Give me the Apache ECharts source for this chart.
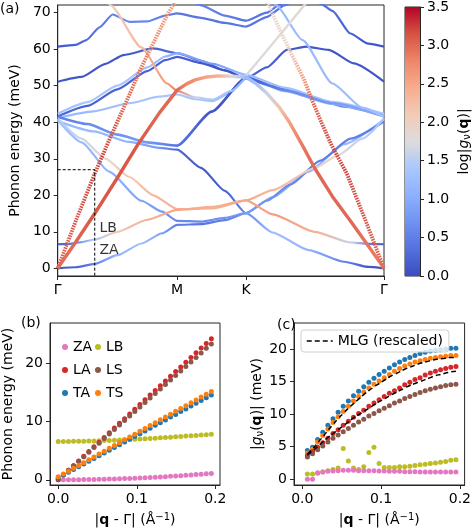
<!DOCTYPE html>
<html><head><meta charset="utf-8">
<script src="https://cdn.jsdelivr.net/npm/echarts@6/dist/echarts.min.js"></script>
<style>html,body{margin:0;padding:0;background:#fff}#c{width:474px;height:528px}</style>
</head><body><div id="c"></div>
<script>
// ---------- Panel (a): high-symmetry path (units of |ΓM|) ----------
const pathTicks = [0, 1, 1.5774, 2.7321];
const pathLabels = ['Γ', 'M', 'K', 'Γ'];
const energyTicks = [0, 10, 20, 30, 40, 50, 60, 70];
// bands: [s, energy (meV), log|g|]
const bandH60 = [[0,60.7,0.1],[0.15,61.2,0.2],[0.24,62.5,0.3],[0.35,66,0.4],[0.46,69.5,0.5],[0.6,67.5,0.6],[0.75,67.6,0.6],[0.9,69.2,0.5],[1,69.8,0.4],[1.2,68.6,0.4],[1.4,67.2,0.4],[1.577,66.2,0.4],[1.75,68.8,0.4],[1.9,72,0.4],[2.0,74,0.4]];
const bandH60R = [[2.1,74,0.4],[2.2,72.5,0.4],[2.3,70.5,0.3],[2.45,64.3,0.2],[2.6,61.5,0.1],[2.732,60.7,0.1]];
const bandHK2 = [[1.1,74,0.5],[1.2,72,0.5],[1.4,69.2,0.5],[1.577,67.8,0.4],[1.75,70,0.4],[1.85,72,0.4],[1.95,74,0.4]];
const bandH51 = [[0,51.1,0.1],[0.2,52.4,0.1],[0.4,56,0.1],[0.55,58.4,0.1],[0.8,60.2,0.2],[1,58.9,0.3],[1.2,56.8,0.2],[1.4,54.2,0.2],[1.577,52,0.2],[1.75,55,0.2],[1.92,59.8,0.1],[2.08,60.7,0.1],[2.27,59.8,0.1],[2.48,56.1,0.1],[2.732,51.1,0.1]];
const bandR1 = [[0,41.6,0.3],[0.25,44.5,0.2],[0.5,49,0.2],[0.75,54,0.2],[0.9,57,0.2],[1,57.9,0.2],[1.2,56.2,0.1],[1.4,54.2,0.1],[1.577,52,0.1],[1.8,49.8,0.3],[2.1,47,0.4],[2.4,44.3,0.5],[2.732,41.6,0.6]];
const bandR2 = [[0,42.3,1.3],[0.25,45.5,1.4],[0.5,50,1.4],[0.75,55,1.3],[0.9,58,1.2],[1,58.9,1.0],[1.3,56,0.8],[1.577,53,1.2],[1.9,49.5,1.3],[2.3,45.6,1.4],[2.732,42.3,1.4]];
const bandR3 = [[0,41.2,1.2],[0.3,43,1.2],[0.6,45.2,1.3],[0.85,47,1.4],[1,47.6,1.4],[1.15,46.3,1.4],[1.3,45.8,1.3],[1.45,48.2,1.2],[1.577,52.5,1.0],[1.9,48.5,1.3],[2.3,45,1.3],[2.732,41.8,1.3]];
const bandD1 = [[0,41.5,0.5],[0.25,39.5,0.6],[0.5,36.6,0.7],[0.75,34.5,0.8],[1,33.6,0.4],[1.29,42.9,0.1],[1.577,52.2,0.1],[1.9,48.8,0.6],[2.3,45.2,0.8],[2.732,41.8,1.0]];
const bandLbR = [[1.78,74,1.2],[1.83,72,1.2],[2.05,62.5,1.2],[2.3,50.6,1.2],[2.55,44,1.3],[2.732,41.5,1.3]];
const bandMD = [[0,40.3,1.2],[0.3,37.5,1.2],[0.6,34.6,1.1],[0.85,33,0.8],[1,32.5,0.3],[1.2,27.5,0.1],[1.4,21.2,0.2],[1.577,15.1,0.6],[1.8,9.8,1.3],[2.1,5,1.1],[2.4,1.8,0.5],[2.6,0.4,0.1],[2.732,0,0.05]];
const bandF = [[0,40.6,1.3],[0.2,34.5,1.2],[0.43,26.5,1.1],[0.7,18.5,0.9],[0.875,15.5,0.8],[1,13,0.6],[1.2,12.8,0.6],[1.4,13.8,0.7],[1.577,15.1,0.9],[1.8,19.5,1.0],[2.1,26.5,1.1],[2.4,34,1.2],[2.732,40.8,1.3]];
const bandZA = [[0,0,0.1],[0.15,0.3,0.2],[0.31,1.2,0.5],[0.5,3.6,1.1],[0.7,6.8,1.3],[0.875,9.6,0.9],[1,11.9,0.5],[1.2,12.1,0.4],[1.4,13.2,0.5],[1.577,15.1,0.8],[1.75,18.5,0.7],[1.95,23,0.6],[2.2,29.5,0.5],[2.45,35.5,0.5],[2.732,40.2,0.5]];
const bandO2 = [[0,41,1.4],[0.2,35.5,1.6],[0.4,30,1.9],[0.6,25,2.1],[0.8,20,2.3],[1,16.2,2.4],[1.3,16.4,2.4],[1.577,18.6,2.5],[1.8,21.4,2.3],[2.15,27.4,2.0],[2.35,31,1.8],[2.55,35.5,1.5],[2.732,41,1.3]];
const bandLB = [[0,6.6,0.2],[0.1,6.7,0.3],[0.2,7.2,0.8],[0.31,7.9,1.4],[0.5,10,2.1],[0.75,13.3,2.4],[1,16,2.5],[1.3,16.8,2.4],[1.577,18.6,2.5],[1.8,14.8,2.6],[2.15,10,2.4],[2.45,7.1,1.6],[2.6,6.7,0.4],[2.732,6.6,0.2]];
const bandGrey = [[1.577,52.8,1.7],[1.848,63.4,1.8],[2.064,72,1.8],[2.12,74.2,1.8]];
const bandBeige = [[0.40,74,1.9],[0.443,72,2.0],[0.7,60.5,2.3],[0.916,50.6,2.6],[1,48.6,2.8],[1.15,46.8,1.6],[1.3,46.2,1.4],[1.45,48.5,1.3],[1.577,52.3,1.0]];
const bandTA = [[0,0,2.9],[0.155,7.4,3.0],[0.31,15,3.1],[0.5,24.8,3.1],[0.673,34,3.1],[0.85,42.5,3.0],[1,48.8,3.0],[1.08,50.5,2.8],[1.15,51.6,2.7],[1.25,52.4,2.5],[1.35,52.7,2.4],[1.46,52.6,1.8],[1.577,52.3,1.2],[1.66,50.6,1.3],[1.75,48,1.6],[1.85,44.3,2.2],[1.94,40,2.6],[2.05,33.6,2.9],[2.152,27.4,3.0],[2.3,19.7,3.0],[2.45,13,3.0],[2.6,6.2,2.9],[2.732,0,2.8]];
const bandLAL = [[0,0,3.0],[0.155,13.3,3.1],[0.311,26,3.2],[0.416,34,3.2],[0.55,43.8,3.0],[0.7,55,2.9],[0.81,62.3,2.7],[0.916,69.3,2.6],[1.0,74,2.5]];
const bandLAR = [[1.72,74,1.8],[1.767,72,1.8],[1.85,66,1.9],[1.94,59.8,2.0],[2.064,51.5,2.6],[2.13,46,3.0],[2.21,39.8,3.1],[2.293,33.7,3.2],[2.42,26,3.2],[2.58,12.9,3.1],[2.732,0,3.0]];
const boxLine = [[0,27],[0.31,27],[0.31,-2.1]];
const modeLabels = [['LB',0.345,11.0],['ZA',0.345,4.8]];

// ---------- Panel (b) ----------
const qB = [0,0.0065,0.013,0.0195,0.026,0.0325,0.039,0.0455,0.052,0.0585,0.065,0.0715,0.078,0.0845,0.091,0.0975,0.104,0.1105,0.117,0.1235,0.13,0.1365,0.143,0.1495,0.156,0.1625,0.169,0.1755,0.182,0.1885,0.195];
const bZA = [0,0,0,0.01,0.02,0.03,0.04,0.06,0.08,0.10,0.12,0.15,0.18,0.21,0.24,0.28,0.31,0.35,0.40,0.44,0.49,0.54,0.59,0.65,0.71,0.77,0.83,0.89,0.96,1.03,1.10];
const bLB = [6.60,6.60,6.61,6.62,6.63,6.65,6.67,6.69,6.72,6.75,6.78,6.81,6.85,6.89,6.93,6.97,7.02,7.07,7.12,7.17,7.23,7.28,7.34,7.40,7.46,7.52,7.58,7.64,7.70,7.76,7.82];
const bLA = [0,0.81,1.62,2.43,3.24,4.05,4.86,5.67,6.48,7.29,8.10,8.91,9.72,10.53,11.34,12.15,12.96,13.77,14.58,15.39,16.20,17.01,17.82,18.63,19.44,20.25,21.06,21.87,22.68,23.49,24.30];
const bLS = [0.1,0.88,1.65,2.43,3.21,3.98,4.76,5.54,6.31,7.09,7.87,8.64,9.42,10.2,10.97,11.75,12.53,13.30,14.08,14.86,15.64,16.41,17.19,17.97,18.74,19.52,20.30,21.07,21.85,22.63,23.40];
const bTA = [0.35,0.82,1.30,1.77,2.25,2.72,3.20,3.67,4.15,4.62,5.10,5.57,6.04,6.52,6.99,7.47,7.94,8.42,8.89,9.37,9.84,10.31,10.79,11.26,11.74,12.21,12.69,13.16,13.64,14.11,14.59];
const bTS = [0.50,0.99,1.48,1.97,2.46,2.95,3.44,3.94,4.43,4.92,5.41,5.90,6.39,6.88,7.37,7.86,8.35,8.84,9.33,9.82,10.32,10.81,11.30,11.79,12.28,12.77,13.26,13.75,14.24,14.73,15.22];

// ---------- Panel (c) ----------
const qC = [0.0065,0.013,0.0195,0.026,0.0325,0.039,0.0455,0.052,0.0585,0.065,0.0715,0.078,0.0845,0.091,0.0975,0.104,0.1105,0.117,0.1235,0.13,0.1365,0.143,0.1495,0.156,0.1625,0.169,0.1755,0.182,0.1885,0.195];
const cTA = [4.4,4.9,6.1,7.2,8.3,9.3,10.3,11.2,12.0,12.8,13.5,14.2,14.9,15.5,16.1,16.6,17.1,17.6,18.0,18.4,18.7,19.0,19.3,19.5,19.7,19.8,19.9,20.0,20.1,20.1];
const cTS = [4.0,4.6,5.7,6.7,7.7,8.7,9.6,10.4,11.2,12.0,12.7,13.4,14.0,14.6,15.1,15.6,16.1,16.6,17.0,17.4,17.7,18.0,18.2,18.4,18.6,18.7,18.8,18.9,19.0,19.0];
const cLA = [3.6,4.2,4.9,5.6,6.3,7.0,7.6,8.3,8.9,9.5,10.1,10.6,11.2,11.7,12.2,12.7,13.2,13.6,14.0,14.5,14.9,15.3,15.6,16.0,16.3,16.6,16.8,17.0,17.2,17.3];
const cLS = [3.4,3.9,4.5,5.1,5.7,6.3,6.8,7.3,7.8,8.3,8.8,9.2,9.7,10.1,10.5,10.9,11.3,11.7,12.0,12.4,12.7,13.0,13.3,13.6,13.8,14.0,14.2,14.4,14.5,14.6];
const cLB = [0.8,0.8,0.9,1.1,1.3,1.5,1.7,4.7,2.8,1.7,1.5,1.9,4.1,4.9,2.4,1.8,1.8,1.8,1.9,1.9,2.0,2.1,2.2,2.3,2.4,2.5,2.6,2.7,2.9,3.0];
const cZA = [0,0,1.0,1.1,1.2,1.25,1.3,1.35,1.35,1.35,1.3,1.3,1.3,1.3,1.25,1.25,1.2,1.2,1.2,1.15,1.15,1.15,1.1,1.1,1.1,1.1,1.1,1.1,1.1,1.1];
const mlgUpper = [3.9,4.6,5.6,6.5,7.5,8.4,9.3,10.1,10.9,11.6,12.3,13.0,13.6,14.2,14.7,15.2,15.7,16.1,16.5,16.9,17.2,17.5,17.8,18.0,18.2,18.4,18.5,18.6,18.7,18.7];
const mlgLower = [3.7,4.3,5.0,5.7,6.4,7.0,7.6,8.2,8.8,9.4,9.9,10.4,10.9,11.4,11.9,12.3,12.8,13.2,13.6,14.0,14.4,14.7,15.0,15.3,15.6,15.9,16.1,16.3,16.5,16.6];
const qTicks = [0, 0.1, 0.2];

// ---------- styling helpers ----------
const CW = ['#3b4cc0','#5470de','#6f92f3','#8db0fe','#aac7fd','#dddcdc','#f2cbb7','#f7ac8e','#ee8669','#d65244','#b40426'];
function hx(h){return [parseInt(h.slice(1,3),16),parseInt(h.slice(3,5),16),parseInt(h.slice(5,7),16)];}
function cw(v){v=Math.max(0,Math.min(1,v));const p=v*10,i=Math.min(9,Math.floor(p)),t=p-i;const a=hx(CW[i]),b=hx(CW[i+1]);
  return 'rgb('+a.map((x,k)=>Math.round(x+(b[k]-x)*t)).join(',')+')';}
function grad(band){const s0=band[0][0],s1=band[band.length-1][0];
  return new echarts.graphic.LinearGradient(0,0,1,0,band.map(p=>({offset:(p[0]-s0)/(s1-s0),color:cw(p[2]/3.5)})));}
const AX = '#262626';
const FS = 14;
const FONT = 'DejaVu Sans';

// [band, width, dash, smooth]
const bandList = [
  [bandH60,2.2,'solid',0.2],[bandH60R,2.2,'solid',0.2],[bandHK2,2.2,'solid',0.2],[bandH51,2.2,'solid',0.2],
  [bandR1,2.2,'solid',0.2],[bandR2,2.2,'solid',0.2],[bandR3,2.2,'solid',0.2],[bandD1,2.6,'solid',0.2],[bandLbR,2.2,'solid',0.2],
  [bandMD,2.2,'solid',0.2],[bandF,2.2,'solid',0.2],[bandZA,2.2,'solid',0.2],[bandO2,2.2,'solid',0.2],[bandLB,2.2,'solid',0.2],
  [bandGrey,2.4,'solid',0],[bandBeige,2.2,'solid',0.2],[bandTA,3.4,'solid',0],[bandLAL,3.8,[1.6,1],0],[bandLAR,3.8,[1.6,1],0]
];
const series = [];
bandList.forEach(([b,w,t,sm])=>{
  series.push({type:'line',xAxisIndex:0,yAxisIndex:0,data:b.map(p=>[p[0],p[1]]),smooth:sm,smoothMonotone:'x',
    symbol:'none',silent:true,lineStyle:{width:w,type:t,color:grad(b)},z:2});
});
series.push({type:'line',xAxisIndex:0,yAxisIndex:0,data:boxLine,symbol:'none',silent:true,
  lineStyle:{color:'#000',width:1,type:[3,2]},z:3});
series.push({type:'scatter',xAxisIndex:0,yAxisIndex:0,data:modeLabels.map(m=>({name:m[0],value:[m[1],m[2]]})),
  symbolSize:1,itemStyle:{color:'rgba(0,0,0,0)'},silent:true,
  label:{show:true,position:'right',distance:0,formatter:p=>p.name,fontSize:FS,color:'#000',fontFamily:FONT},z:4});
// colorbar
series.push({type:'bar',xAxisIndex:1,yAxisIndex:1,data:[3.5],barWidth:'100%',silent:true,
  itemStyle:{color:new echarts.graphic.LinearGradient(0,1,0,0,CW.map((c,i)=>({offset:i/10,color:c})))}});
// panel b
const colors = {ZA:'#e377c2',LB:'#bcbd22',LA:'#d62728',LS:'#8c564b',TA:'#1f77b4',TS:'#ff7f0e'};
const bSets = [['ZA',bZA],['LB',bLB],['LA',bLA],['LS',bLS],['TA',bTA],['TS',bTS]];
bSets.forEach(([n,arr])=>series.push({type:'scatter',name:n,xAxisIndex:2,yAxisIndex:2,data:qB.map((q,i)=>[q,arr[i]]),
  symbolSize:5,itemStyle:{color:colors[n],opacity:1},silent:true}));
// panel c
const cSets = [['TA',cTA],['TS',cTS],['LA',cLA],['LS',cLS],['LB',cLB],['ZA',cZA]];
cSets.forEach(([n,arr])=>series.push({type:'scatter',name:'c'+n,xAxisIndex:3,yAxisIndex:3,data:qC.map((q,i)=>[q,arr[i]]),
  symbolSize:5,itemStyle:{color:colors[n],opacity:1},silent:true}));
[mlgUpper,mlgLower].forEach(arr=>series.push({type:'line',name:'MLG (rescaled)',xAxisIndex:3,yAxisIndex:3,
  data:qC.map((q,i)=>[q,arr[i]]),symbol:'none',showSymbol:false,smooth:true,silent:true,
  lineStyle:{color:'#000',width:1.5,type:[5,3]},itemStyle:{color:'#000'},z:5}));

function valAxis(extra){return Object.assign({type:'value',splitLine:{show:false},
  axisLine:{show:true,onZero:false,lineStyle:{color:AX,width:1}},
  axisTick:{show:true,inside:false,length:4,lineStyle:{color:AX}},
  axisLabel:{color:'#000',fontSize:FS,fontFamily:FONT,margin:7},
  nameTextStyle:{color:'#000',fontSize:FS,fontFamily:FONT}},extra);}

const richName = {i:{fontStyle:'italic',fontSize:FS,fontFamily:FONT},s:{fontSize:10,fontFamily:FONT,padding:[6,0,0,0]},
  b:{fontWeight:'bold',fontSize:FS,fontFamily:FONT},sup:{fontSize:10,fontFamily:FONT,padding:[0,0,6,0]}};

const option = {
  animation:false,
  backgroundColor:'#fff',
  textStyle:{fontFamily:FONT},
  grid:[
    {left:47,top:5,width:337,height:271,show:true,borderColor:AX,borderWidth:1},
    {left:405,top:5,width:15,height:271,show:true,borderColor:AX,borderWidth:1},
    {left:47,top:323,width:173,height:164,show:true,borderColor:AX,borderWidth:1},
    {left:294,top:323,width:173,height:165,show:true,borderColor:AX,borderWidth:1}
  ],
  xAxis:[
    valAxis({gridIndex:0,min:0,max:2.7321,
      axisTick:{show:true,length:4,lineStyle:{color:AX},customValues:pathTicks},
      axisLabel:{color:'#000',fontSize:FS,fontFamily:FONT,margin:7,customValues:pathTicks,
        formatter:v=>{let k=0;pathTicks.forEach((t,i)=>{if(Math.abs(t-v)<1e-3)k=i;});return pathLabels[k];}}}),
    {type:'category',gridIndex:1,data:['c'],show:false},
    valAxis({gridIndex:2,min:-0.0105,max:0.206,name:'|{b|q} - Γ| (Å{sup|−1})',nameLocation:'middle',nameGap:27,
      nameTextStyle:{color:'#000',fontSize:FS,fontFamily:FONT,rich:richName},
      axisTick:{show:true,length:4,lineStyle:{color:AX},customValues:qTicks},
      axisLabel:{color:'#000',fontSize:FS,fontFamily:FONT,margin:7,customValues:qTicks,formatter:v=>v.toFixed(1)}}),
    valAxis({gridIndex:3,min:-0.0105,max:0.206,name:'|{b|q} - Γ| (Å{sup|−1})',nameLocation:'middle',nameGap:27,
      nameTextStyle:{color:'#000',fontSize:FS,fontFamily:FONT,rich:richName},
      axisTick:{show:true,length:4,lineStyle:{color:AX},customValues:qTicks},
      axisLabel:{color:'#000',fontSize:FS,fontFamily:FONT,margin:7,customValues:qTicks,formatter:v=>v.toFixed(1)}})
  ],
  yAxis:[
    valAxis({gridIndex:0,min:-2.1,max:72.1,name:'Phonon energy (meV)',nameLocation:'middle',nameGap:34,
      axisTick:{show:true,length:4,lineStyle:{color:AX},customValues:energyTicks},
      axisLabel:{color:'#000',fontSize:FS,fontFamily:FONT,margin:7,customValues:energyTicks}}),
    valAxis({gridIndex:1,min:0,max:3.5,interval:0.5,position:'right',name:'log|{i|g}{s|ν}({b|q})|',nameLocation:'middle',nameGap:36,
      nameTextStyle:{color:'#000',fontSize:FS,fontFamily:FONT,rich:richName},
      axisLabel:{color:'#000',fontSize:FS,fontFamily:FONT,margin:7,formatter:v=>v.toFixed(1)}}),
    valAxis({gridIndex:2,min:-0.9,max:27.0,name:'Phonon energy (meV)',nameLocation:'middle',nameGap:35,
      axisTick:{show:true,length:4,lineStyle:{color:AX},customValues:[0,10,20]},
      axisLabel:{color:'#000',fontSize:FS,fontFamily:FONT,margin:7,customValues:[0,10,20]}}),
    valAxis({gridIndex:3,min:-0.9,max:24.0,name:'|{i|g}{s|ν}({b|q})| (meV)',nameLocation:'middle',nameGap:24,
      nameTextStyle:{color:'#000',fontSize:FS,fontFamily:FONT,rich:richName},
      axisTick:{show:true,length:4,lineStyle:{color:AX},customValues:[0,5,10,15,20]},
      axisLabel:{color:'#000',fontSize:FS,fontFamily:FONT,margin:7,customValues:[0,5,10,15,20]}})
  ],
  legend:[
    {data:['ZA','LA','TA'],orient:'vertical',left:57,top:334,itemWidth:6,itemHeight:6,itemGap:7,icon:'circle',
      textStyle:{fontSize:FS,fontFamily:FONT,color:'#000',lineHeight:16},selectedMode:false},
    {data:['LB','LS','TS'],orient:'vertical',left:90,top:334,itemWidth:6,itemHeight:6,itemGap:7,icon:'circle',
      textStyle:{fontSize:FS,fontFamily:FONT,color:'#000',lineHeight:16},selectedMode:false},
    {data:['MLG (rescaled)'],left:301,top:330,itemWidth:26,itemHeight:10,padding:[4,6,4,5],
      itemStyle:{opacity:0},lineStyle:{color:'#000',width:1.5,type:[5,3]},
      borderColor:'#d0d0d0',borderWidth:1,borderRadius:3,backgroundColor:'rgba(255,255,255,0.8)',
      textStyle:{fontSize:FS,fontFamily:FONT,color:'#000'},selectedMode:false}
  ],
  graphic:[
    {type:'text',left:0,top:2,style:{text:'(a)',fontSize:FS,fontFamily:FONT,fill:'#000'}},
    {type:'text',left:21,top:316,style:{text:'(b)',fontSize:FS,fontFamily:FONT,fill:'#000'}},
    {type:'text',left:277,top:318,style:{text:'(c)',fontSize:FS,fontFamily:FONT,fill:'#000'}}
  ],
  series:series
};
const chart = echarts.init(document.getElementById('c'),null,{renderer:'canvas'});
chart.setOption(option);
</script></body></html>
